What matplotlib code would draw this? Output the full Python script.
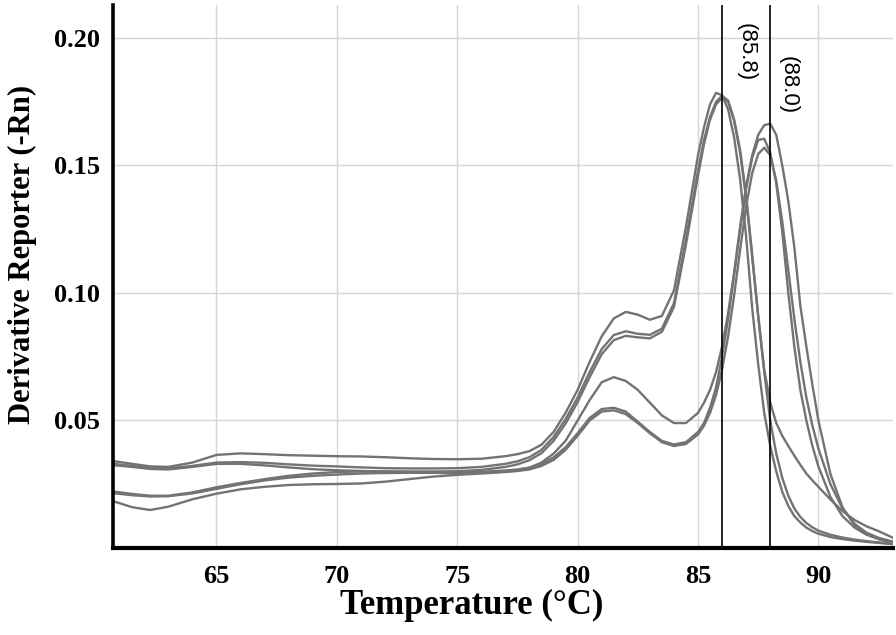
import matplotlib
matplotlib.use("Agg")
import matplotlib.pyplot as plt

# ---------------- data ----------------
temperature = [60.7, 61.5, 62.25, 63, 64, 65, 66, 67, 68, 69, 70, 71, 72, 73, 74, 75, 76, 77,
               77.5, 78, 78.5, 79, 79.5, 80, 80.5, 81, 81.5, 82, 82.5, 83, 83.5, 84, 84.5, 85,
               85.25, 85.5, 85.75, 86, 86.25, 86.5, 86.75, 87, 87.25, 87.5, 87.75, 88, 88.25,
               88.5, 88.75, 89, 89.25, 89.5, 89.75, 90, 90.5, 91, 91.5, 92, 92.5, 93.1]

curve_a1 = [0.0341, 0.0330, 0.0320, 0.0318, 0.0335, 0.0365, 0.0371, 0.0368, 0.0364, 0.0362,
            0.0360, 0.0359, 0.0356, 0.0352, 0.0349, 0.0348, 0.0350, 0.0360, 0.0368, 0.0380,
            0.0405, 0.0455, 0.0530, 0.0620, 0.0730, 0.0830, 0.0900, 0.0926, 0.0915, 0.0895,
            0.0910, 0.1010, 0.1260, 0.1540, 0.1650, 0.1740, 0.1785, 0.1775, 0.1720, 0.1610,
            0.1445, 0.1220, 0.0940, 0.0720, 0.0530, 0.0400, 0.0300, 0.0220, 0.0165, 0.0125,
            0.0100, 0.0080, 0.0066, 0.0056, 0.0043, 0.0035, 0.0029, 0.0024, 0.0020, 0.0015]

curve_a2 = [0.0330, 0.0322, 0.0314, 0.0312, 0.0322, 0.0335, 0.0337, 0.0334, 0.0328, 0.0323,
            0.0320, 0.0316, 0.0313, 0.0312, 0.0312, 0.0313, 0.0318, 0.0330, 0.0340, 0.0356,
            0.0385, 0.0435, 0.0505, 0.0590, 0.0690, 0.0780, 0.0835, 0.0850, 0.0840, 0.0836,
            0.0860, 0.0960, 0.1210, 0.1480, 0.1600, 0.1690, 0.1750, 0.1773, 0.1755, 0.1680,
            0.1560, 0.1380, 0.1150, 0.0910, 0.0690, 0.0500, 0.0370, 0.0275, 0.0205, 0.0155,
            0.0122, 0.0098, 0.0081, 0.0068, 0.0052, 0.0041, 0.0033, 0.0027, 0.0022, 0.0016]

curve_a3 = [0.0325, 0.0318, 0.0310, 0.0308, 0.0318, 0.0330, 0.0330, 0.0324, 0.0316, 0.0309,
            0.0305, 0.0302, 0.0300, 0.0300, 0.0300, 0.0301, 0.0306, 0.0318, 0.0328, 0.0344,
            0.0372, 0.0420, 0.0488, 0.0572, 0.0670, 0.0760, 0.0815, 0.0832, 0.0826, 0.0822,
            0.0848, 0.0945, 0.1190, 0.1460, 0.1585, 0.1680, 0.1740, 0.1765, 0.1750, 0.1675,
            0.1550, 0.1370, 0.1140, 0.0910, 0.0700, 0.0570, 0.0490, 0.0440, 0.0400, 0.0362,
            0.0326, 0.0292, 0.0265, 0.0240, 0.0190, 0.0145, 0.0110, 0.0085, 0.0066, 0.0040]

curve_b1 = [0.0222, 0.0212, 0.0205, 0.0205, 0.0218, 0.0238, 0.0255, 0.0270, 0.0283, 0.0292,
            0.0298, 0.0300, 0.0300, 0.0298, 0.0295, 0.0293, 0.0295, 0.0300, 0.0305, 0.0315,
            0.0335, 0.0370, 0.0420, 0.0500, 0.0580, 0.0650, 0.0670, 0.0655, 0.0620, 0.0570,
            0.0520, 0.0490, 0.0490, 0.0530, 0.0570, 0.0620, 0.0690, 0.0790, 0.0920, 0.1080,
            0.1260, 0.1420, 0.1540, 0.1620, 0.1658, 0.1664, 0.1620, 0.1500, 0.1360, 0.1180,
            0.0950, 0.0790, 0.0640, 0.0500, 0.0290, 0.0160, 0.0090, 0.0055, 0.0035, 0.0020]

curve_b2 = [0.0215, 0.0207, 0.0202, 0.0203, 0.0214, 0.0232, 0.0250, 0.0265, 0.0276, 0.0283,
            0.0288, 0.0292, 0.0294, 0.0295, 0.0295, 0.0296, 0.0299, 0.0304, 0.0308, 0.0315,
            0.0330, 0.0355, 0.0395, 0.0450, 0.0510, 0.0545, 0.0550, 0.0535, 0.0495, 0.0455,
            0.0420, 0.0406, 0.0415, 0.0455, 0.0490, 0.0550, 0.0630, 0.0750, 0.0900, 0.1070,
            0.1250, 0.1410, 0.1530, 0.1600, 0.1605, 0.1550, 0.1430, 0.1240, 0.1000, 0.0790,
            0.0620, 0.0500, 0.0400, 0.0320, 0.0200, 0.0125, 0.0080, 0.0052, 0.0035, 0.0022]

curve_b3 = [0.0184, 0.0160, 0.0149, 0.0162, 0.0191, 0.0213, 0.0230, 0.0240, 0.0247, 0.0250,
            0.0251, 0.0253, 0.0260, 0.0270, 0.0280, 0.0287, 0.0292, 0.0298, 0.0302, 0.0308,
            0.0322, 0.0345, 0.0385, 0.0440, 0.0500, 0.0535, 0.0540, 0.0525, 0.0490, 0.0450,
            0.0415, 0.0400, 0.0408, 0.0445, 0.0480, 0.0530, 0.0600, 0.0700, 0.0830, 0.0990,
            0.1170, 0.1340, 0.1470, 0.1545, 0.1570, 0.1540, 0.1440, 0.1280, 0.1090, 0.0900,
            0.0730, 0.0590, 0.0480, 0.0390, 0.0250, 0.0155, 0.0095, 0.0060, 0.0040, 0.0025]

curves = [curve_a1, curve_a2, curve_a3, curve_b1, curve_b2, curve_b3]

x_ticks = [65, 70, 75, 80, 85, 90]
y_ticks = [0.05, 0.10, 0.15, 0.20]
y_tick_labels = ["0.05", "0.10", "0.15", "0.20"]
tm_lines = [86.0, 88.0]
tm_labels = ["(85.8)", "(88.0)"]

# ---------------- figure ----------------
fig = plt.figure(figsize=(8.96, 6.35), dpi=100)
ax = fig.add_axes([0.126, 0.137, 0.8707, 0.855])

ax.set_xlim(60.7, 93.1)
ax.set_ylim(0.0, 0.2129)

ax.set_xticks(x_ticks)
ax.set_yticks(y_ticks)
ax.set_yticklabels(y_tick_labels)
ax.grid(True, color="#d6d6d6", linewidth=1.0)
ax.set_axisbelow(True)

for c in curves:
    ax.plot(temperature, c, color="#737373", linewidth=1.7, solid_capstyle="round")

for xv in tm_lines:
    ax.axvline(xv, color="black", linewidth=1.2)

ax.text(87.0, 0.1945, tm_labels[0], rotation=-90, ha="center", va="center",
        fontsize=16, family="Liberation Sans")
ax.text(88.75, 0.1815, tm_labels[1], rotation=-90, ha="center", va="center",
        fontsize=16, family="Liberation Sans")

for s in ["top", "right"]:
    ax.spines[s].set_visible(False)
ax.spines["left"].set_linewidth(2.6)
ax.spines["bottom"].set_linewidth(3.0)

ax.tick_params(axis="both", length=0)
ax.tick_params(axis="y", pad=9)
ax.tick_params(axis="x", pad=12)
for lab in ax.get_xticklabels() + ax.get_yticklabels():
    lab.set_family("Liberation Serif")
    lab.set_fontweight("bold")
    lab.set_fontsize(19)

ax.set_xlabel("Temperature (°C)", family="Liberation Serif", fontweight="bold",
              fontsize=25)
ax.set_ylabel("Derivative Reporter (-Rn)", family="Liberation Serif", fontweight="bold",
              fontsize=22)
ax.xaxis.set_label_coords(0.46, -0.076)
ax.yaxis.set_label_coords(-0.097, 0.54)

fig.savefig("out.png", dpi=100)
